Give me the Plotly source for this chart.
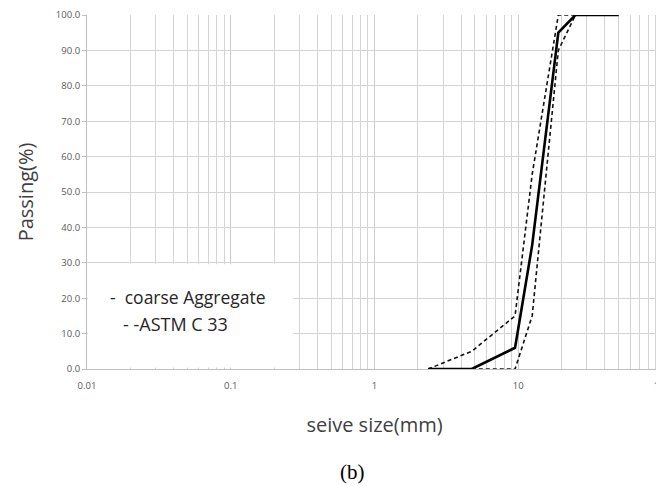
import plotly.graph_objects as go

# Sieve sizes (mm) and percent passing
coarse_size = [2.36, 4.75, 9.5, 12.5, 19, 25, 50]
coarse_pass = [0, 0, 6, 35, 95, 100, 100]

astm_upper_size = [2.36, 4.75, 9.5, 12.5, 19, 25]
astm_upper_pass = [0, 5, 15, 55, 100, 100]

astm_lower_size = [4.75, 9.5, 12.5, 19, 25]
astm_lower_pass = [0, 0, 15, 90, 100]

x_tickvals = [0.01, 0.1, 1, 10, 100]
x_ticktext = ["0.01", "0.1", "1", "10", "100"]
y_tickvals = [0, 10, 20, 30, 40, 50, 60, 70, 80, 90, 100]
y_ticktext = ["%.1f" % v for v in y_tickvals]

fig = go.Figure()
fig.add_trace(go.Scatter(x=astm_upper_size, y=astm_upper_pass, mode="lines",
                         line=dict(color="#111111", width=1.6, dash="4px,3px"),
                         name="ASTM C 33", showlegend=False))
fig.add_trace(go.Scatter(x=astm_lower_size, y=astm_lower_pass, mode="lines",
                         line=dict(color="#111111", width=1.6, dash="4px,3px"),
                         name="ASTM C 33", showlegend=False))
fig.add_trace(go.Scatter(x=coarse_size, y=coarse_pass, mode="lines",
                         line=dict(color="#000000", width=2.6),
                         name="coarse Aggregate", showlegend=False))

# page body has a default 8px margin, so the figure is sized to fit inside it
grid_col = "#d4d4d4"
fig.update_layout(
    width=656, height=478,
    margin=dict(l=79, r=2, t=7, b=116.7),
    paper_bgcolor="white", plot_bgcolor="white",
    showlegend=False,
    font=dict(family="Open Sans, sans-serif", color="#595959"),
    xaxis=dict(
        type="log", range=[-2, 2], automargin=False,
        tickvals=x_tickvals, ticktext=x_ticktext,
        tickfont=dict(size=9.5, color="#595959"),
        ticklabeloverflow="allow", ticklabelstandoff=8,
        showgrid=True, gridcolor="#cccccc", gridwidth=1,
        minor=dict(dtick="D1", showgrid=True, gridcolor=grid_col, gridwidth=1, ticks=""),
        showline=True, linecolor="#bfbfbf", linewidth=1,
        ticks="", zeroline=False,
        title=dict(text="seive size(mm)", font=dict(size=20, color="#404040"), standoff=26),
    ),
    yaxis=dict(
        range=[0, 100], automargin=False,
        tickvals=y_tickvals, ticktext=y_ticktext,
        tickfont=dict(size=9.5, color="#595959"),
        showgrid=True, gridcolor=grid_col, gridwidth=1,
        showline=True, linecolor="#bfbfbf", linewidth=1,
        ticks="outside", ticklen=4, tickcolor="#bfbfbf",
        zeroline=False,
        title=dict(text="Passing(%)", font=dict(size=20, color="#404040"), standoff=16),
    ),
    shapes=[
        dict(type="rect", xref="paper", yref="paper",
             x0=0.002, x1=0.358, y0=0.004, y1=0.296,
             fillcolor="white", line=dict(width=0), layer="above"),
    ],
    annotations=[
        dict(text="-  coarse Aggregate", xref="paper", yref="paper",
             x=(108 - 87) / 575, y=(369.3 - 297) / 354.3, xanchor="left", yanchor="middle",
             showarrow=False, font=dict(size=17.5, color="#262626", family="Open Sans, sans-serif")),
        dict(text="- -ASTM C 33", xref="paper", yref="paper",
             x=(121 - 87) / 575, y=(369.3 - 324) / 354.3, xanchor="left", yanchor="middle",
             showarrow=False, font=dict(size=18, color="#262626", family="Open Sans, sans-serif")),
        dict(text="(b)", xref="paper", yref="paper",
             x=(352 - 87) / 575, y=(369.3 - 472) / 354.3, xanchor="center", yanchor="middle",
             showarrow=False, font=dict(size=21, color="#000000", family="Liberation Serif, serif")),
    ],
)

fig.write_html("out.html")
